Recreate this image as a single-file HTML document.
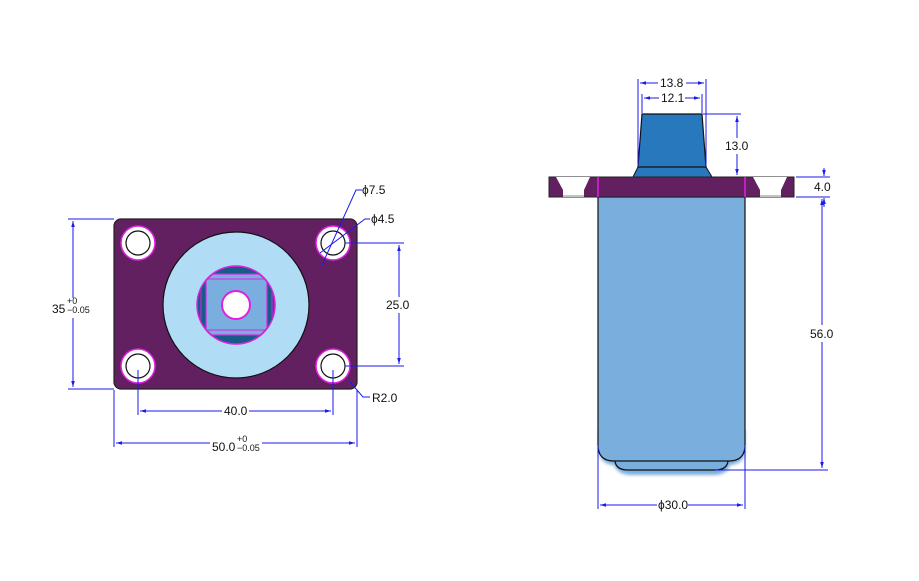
<!DOCTYPE html>
<html><head><meta charset="utf-8"><style>
html,body{margin:0;padding:0;background:#fff;}
svg{display:block;}
text{font-family:"Liberation Sans",sans-serif;font-size:12px;fill:#111;}
</style></head><body>
<svg width="919" height="581" viewBox="0 0 919 581" xmlns="http://www.w3.org/2000/svg">
<defs>
<marker id="a" viewBox="0 0 10 10" refX="10" refY="5" markerWidth="6" markerHeight="6" orient="auto-start-reverse"><path d="M0,2 L10,5 L0,8z" fill="#1a1aee"/></marker>
<clipPath id="cc"><circle cx="236" cy="305" r="38"/></clipPath>
<filter id="bl"><feGaussianBlur stdDeviation="1.5"/></filter>
</defs>
<!-- LEFT VIEW -->
<rect x="114" y="219" width="243" height="170" rx="7" fill="#622060" stroke="#222" stroke-width="1.2"/>
<g>
<circle cx="138" cy="243" r="17" fill="#fff" stroke="#e020e0" stroke-width="1.5"/><circle cx="138" cy="243" r="12" fill="#fff" stroke="#111" stroke-width="1.2"/>
<circle cx="333" cy="243" r="17" fill="#fff" stroke="#e020e0" stroke-width="1.5"/><circle cx="333" cy="243" r="12" fill="#fff" stroke="#111" stroke-width="1.2"/>
<circle cx="138" cy="366" r="17" fill="#fff" stroke="#e020e0" stroke-width="1.5"/><circle cx="138" cy="366" r="12" fill="#fff" stroke="#111" stroke-width="1.2"/>
<circle cx="333" cy="366" r="17" fill="#fff" stroke="#e020e0" stroke-width="1.5"/><circle cx="333" cy="366" r="12" fill="#fff" stroke="#111" stroke-width="1.2"/>
</g>
<circle cx="236" cy="305" r="73" fill="#b0dcf5" stroke="#111" stroke-width="1.2"/>
<circle cx="236" cy="305" r="39" fill="#1a5a8a" stroke="#e020e0" stroke-width="1.5"/>
<g clip-path="url(#cc)">
<rect x="206" y="274" width="61" height="61" fill="#7aaedf" stroke="#e020e0" stroke-width="1.2"/>
<rect x="201" y="279" width="71" height="51" fill="none" stroke="#e020e0" stroke-width="1"/>
</g>
<circle cx="236" cy="305" r="14" fill="#fff" stroke="#e020e0" stroke-width="2"/>
<g stroke="#1a1aee" stroke-width="1" fill="none">
<line x1="68" y1="219" x2="114" y2="219"/><line x1="68" y1="389" x2="114" y2="389"/>
<line x1="73" y1="221" x2="73" y2="298" marker-start="url(#a)"/><line x1="73" y1="318" x2="73" y2="387" marker-end="url(#a)"/>
<line x1="345" y1="243" x2="404" y2="243"/><line x1="345" y1="366" x2="404" y2="366"/>
<line x1="399" y1="245" x2="399" y2="297" marker-start="url(#a)"/><line x1="399" y1="313" x2="399" y2="364" marker-end="url(#a)"/>
<line x1="138" y1="370" x2="138" y2="415"/><line x1="333" y1="370" x2="333" y2="415"/>
<line x1="140" y1="411" x2="222" y2="411" marker-start="url(#a)"/><line x1="249" y1="411" x2="331" y2="411" marker-end="url(#a)"/>
<line x1="114" y1="390" x2="114" y2="447"/><line x1="357" y1="390" x2="357" y2="447"/>
<line x1="116" y1="443" x2="210" y2="443" marker-start="url(#a)"/><line x1="262" y1="443" x2="355" y2="443" marker-end="url(#a)"/>
<polyline points="362,190 356,190 322,265"/>
<polyline points="370,219 365,219 320,253"/>
<polyline points="350,382 363,397 370,397"/>
</g>
<text x="52" y="313">35</text><text x="67" y="304" style="font-size:9px">+0</text><text x="67" y="313" style="font-size:9px">−0.05</text>
<text x="386" y="309">25.0</text>
<text x="224" y="415">40.0</text>
<text x="212" y="451">50.0</text><text x="237" y="442" style="font-size:9px">+0</text><text x="237" y="451" style="font-size:9px">−0.05</text>
<text x="362" y="194">ϕ7.5</text>
<text x="371" y="223">ϕ4.5</text>
<text x="372" y="402">R2.0</text>
<!-- RIGHT VIEW -->
<path d="M599,430 L599,449 Q599,464 614,465 Q618,475 632,475 L713,475 Q727,475 730,465 Q745,464 745,449 L745,430 Z" fill="#7aaedd" filter="url(#bl)"/>
<path d="M615,461 Q616,470 628,470 L715,470 Q727,470 728,461" fill="#7aaedd" stroke="#111" stroke-width="1.2"/>
<path d="M598,197 L745,197 L745,445 Q745,461 729,461 L614,461 Q598,461 598,445 Z" fill="#7aaedd" stroke="#111" stroke-width="1.2"/>
<polygon points="633,177 638,167 706,167 712,177" fill="#2878be" stroke="#111" stroke-width="1"/>
<polygon points="638,167 642,114 702,114 706,167" fill="#2878be" stroke="#111" stroke-width="1.2"/>
<rect x="549" y="177" width="245" height="20" fill="#622060" stroke="#222" stroke-width="1"/>
<polygon points="556,177 590,177 584,190 584,197 563,197 563,190" fill="#fff"/>
<polygon points="753,177 787,177 781,190 781,197 760,197 760,190" fill="#fff"/>
<line x1="563" y1="196" x2="584" y2="196" stroke="#888"/><line x1="760" y1="196" x2="781" y2="196" stroke="#888"/>
<line x1="598" y1="177" x2="598" y2="197" stroke="#e020e0" stroke-width="1.5"/>
<line x1="745" y1="177" x2="745" y2="197" stroke="#e020e0" stroke-width="1.5"/>
<g stroke="#1a1aee" stroke-width="1" fill="none">
<line x1="638" y1="79" x2="638" y2="166"/><line x1="706" y1="79" x2="706" y2="166"/>
<line x1="640" y1="83" x2="658" y2="83" marker-start="url(#a)"/><line x1="686" y1="83" x2="704" y2="83" marker-end="url(#a)"/>
<line x1="642" y1="94" x2="642" y2="113"/><line x1="702" y1="94" x2="702" y2="113"/>
<line x1="644" y1="98" x2="659" y2="98" marker-start="url(#a)"/><line x1="685" y1="98" x2="700" y2="98" marker-end="url(#a)"/>
<line x1="703" y1="114" x2="741" y2="114"/>
<line x1="737" y1="116" x2="737" y2="138" marker-start="url(#a)"/><line x1="737" y1="154" x2="737" y2="175" marker-end="url(#a)"/>
<line x1="796" y1="177" x2="830" y2="177"/><line x1="796" y1="197" x2="830" y2="197"/>
<line x1="824" y1="168" x2="824" y2="176" marker-end="url(#a)"/><line x1="824" y1="207" x2="824" y2="198" marker-end="url(#a)"/>
<line x1="715" y1="470" x2="828" y2="470"/>
<line x1="822" y1="199" x2="822" y2="325" marker-start="url(#a)"/><line x1="822" y1="342" x2="822" y2="468" marker-end="url(#a)"/>
<line x1="598" y1="445" x2="598" y2="509"/><line x1="745" y1="445" x2="745" y2="509"/>
<line x1="600" y1="505" x2="657" y2="505" marker-start="url(#a)"/><line x1="688" y1="505" x2="743" y2="505" marker-end="url(#a)"/>
</g>
<text x="660" y="87">13.8</text>
<text x="661" y="102">12.1</text>
<text x="725" y="150">13.0</text>
<text x="814" y="191">4.0</text>
<text x="810" y="338">56.0</text>
<text x="658" y="509">ϕ30.0</text>
</svg>
</body></html>
